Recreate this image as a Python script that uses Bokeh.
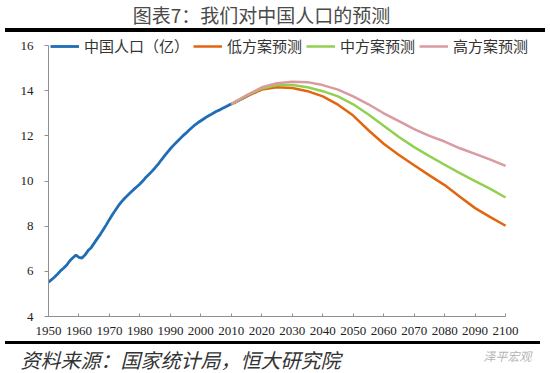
from bokeh.plotting import figure
from bokeh.layouts import column
from bokeh.models import Range1d, FixedTicker, Legend, LegendItem, Label, Div
from bokeh.embed import file_html
from bokeh.resources import INLINE

# ---- data ----
hist_years = list(range(1950, 2019))
hist_pop = [5.52, 5.63, 5.75, 5.88, 6.03, 6.15, 6.28, 6.47, 6.60, 6.72,
            6.62, 6.59, 6.73, 6.92, 7.05, 7.25, 7.45, 7.64, 7.85, 8.07,
            8.30, 8.52, 8.72, 8.92, 9.09, 9.24, 9.37, 9.50, 9.63, 9.75,
            9.87, 10.01, 10.17, 10.30, 10.44, 10.59, 10.75, 10.93, 11.10, 11.27,
            11.43, 11.58, 11.72, 11.85, 11.99, 12.11, 12.24, 12.36, 12.48, 12.58,
            12.67, 12.76, 12.85, 12.92, 13.00, 13.08, 13.14, 13.21, 13.28, 13.35,
            13.41, 13.47, 13.54, 13.61, 13.68, 13.75, 13.83, 13.90, 13.95]

proj_years = list(range(2010, 2101, 5))
low_proj = [13.41, 13.75, 14.05, 14.15, 14.12, 13.98, 13.75, 13.38, 12.90,
            12.25, 11.65, 11.15, 10.70, 10.25, 9.82, 9.30, 8.80, 8.40, 8.02]
mid_proj = [13.41, 13.78, 14.10, 14.25, 14.25, 14.15, 13.98, 13.75, 13.40,
            12.95, 12.45, 11.95, 11.50, 11.10, 10.72, 10.35, 10.00, 9.65, 9.27]
high_proj = [13.41, 13.80, 14.15, 14.33, 14.40, 14.38, 14.25, 14.05, 13.75,
             13.40, 13.00, 12.65, 12.30, 12.00, 11.75, 11.45, 11.20, 10.95, 10.67]

x_ticks = list(range(1950, 2101, 10))
y_ticks = [4, 6, 8, 10, 12, 14, 16]

series_labels = ["中国人口（亿）", "低方案预测", "中方案预测", "高方案预测"]
title_text = "图表7：我们对中国人口的预测"
source_text = "资料来源：国家统计局，恒大研究院"
watermark_text = "泽平宏观"

CJK = "Noto Sans CJK SC"
W = 550


def blank(width, height):
    f = figure(width=width, height=height, output_backend="svg",
               toolbar_location=None, x_range=Range1d(0, width),
               y_range=Range1d(0, height), min_border=0, frame_align=False,
               x_axis_location=None, y_axis_location=None, title=None)
    f.grid.visible = False
    f.outline_line_color = None
    return f


def rule(width, height):
    return Div(text="", width=width, height=height, margin=(0, 0, 0, 5),
               styles={"background-color": "black"})


# ---- header: title, then thick rule ----
top = blank(W, 28)
top.add_layout(Label(x=261, y=14, text=title_text, text_align="center",
                     text_baseline="middle", text_font=CJK, text_font_size="19px",
                     text_color="#4a4a4a"))
rule_top = rule(540, 4)

# ---- main chart ----
p = figure(width=W, height=309, output_backend="svg", toolbar_location=None,
           x_range=Range1d(1950, 2113.1), y_range=Range1d(4, 16.49),
           min_border_left=48, min_border_right=5, min_border_top=2,
           min_border_bottom=25, frame_align=False)
p.outline_line_color = None
p.xgrid.visible = False
p.ygrid.visible = False

for ax in (p.xaxis[0], p.yaxis[0]):
    ax.axis_line_color = "#8f8f8f"
    ax.axis_line_width = 1
    ax.major_tick_line_color = "#8f8f8f"
    ax.minor_tick_line_color = None
    ax.major_label_text_font = "Liberation Serif"
    ax.major_label_text_font_size = "13px"
    ax.major_label_text_color = "#222222"

p.xaxis.ticker = FixedTicker(ticks=x_ticks)
p.yaxis.ticker = FixedTicker(ticks=y_ticks)
p.xaxis.bounds = (1950, 2100)
p.yaxis.bounds = (4, 16)
p.xaxis.major_tick_in = 3
p.xaxis.major_tick_out = 0
p.xaxis.major_label_standoff = 10
p.yaxis.major_tick_in = 0
p.yaxis.major_tick_out = 4
p.yaxis.major_label_standoff = 11

r_hist = p.line(hist_years, hist_pop, line_color="#1f6db4", line_width=2.8)
r_low = p.line(proj_years, low_proj, line_color="#e2660f", line_width=2.5)
r_mid = p.line(proj_years, mid_proj, line_color="#92d050", line_width=2.5)
r_high = p.line(proj_years, high_proj, line_color="#d99aa0", line_width=2.5)

legend = Legend(items=[LegendItem(label=series_labels[0], renderers=[r_hist]),
                       LegendItem(label=series_labels[1], renderers=[r_low]),
                       LegendItem(label=series_labels[2], renderers=[r_mid]),
                       LegendItem(label=series_labels[3], renderers=[r_high])],
                orientation="horizontal", location=(2, 260), padding=0, margin=0,
                spacing=4, glyph_width=29, glyph_height=16, label_height=16,
                label_standoff=5, label_text_font=CJK, label_text_font_size="15px",
                label_text_color="#333333", label_text_baseline="middle",
                background_fill_alpha=0, border_line_color=None)
p.add_layout(legend)

# ---- footer: thin rule, then source and watermark ----
rule_bot = rule(535, 3)
bot = blank(W, 29)
bot.add_layout(Label(x=20, y=14.5, text=source_text, text_align="left",
                     text_baseline="middle", text_font=CJK, text_font_style="italic",
                     text_font_size="20px", text_color="#333333"))
bot.add_layout(Label(x=483, y=18, text=watermark_text, text_align="left",
                     text_baseline="middle", text_font=CJK, text_font_style="italic",
                     text_font_size="12px", text_color="#b5b5b5"))

layout = column(top, rule_top, p, rule_bot, bot, spacing=0)
open("out.html", "w").write(file_html(layout, INLINE))
